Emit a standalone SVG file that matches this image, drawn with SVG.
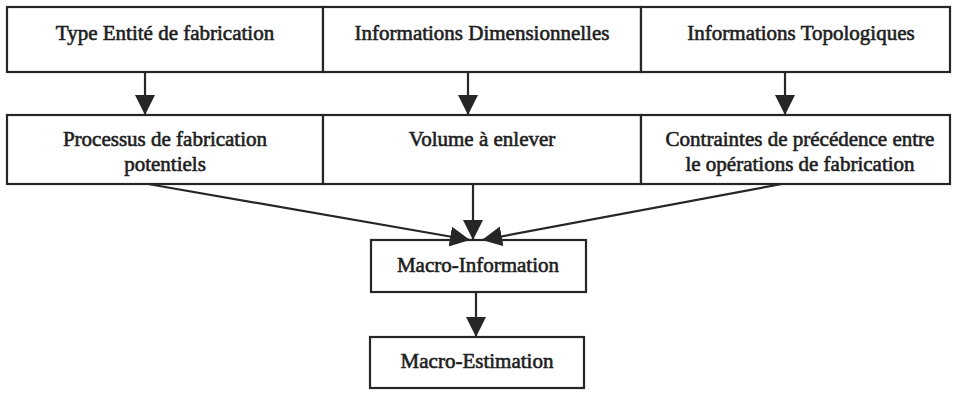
<svg xmlns="http://www.w3.org/2000/svg" width="953" height="393" viewBox="0 0 953 393">
<style>
.box{fill:#fff;stroke:#262626;stroke-width:2.2}
.t{font-family:"Liberation Serif","Times New Roman",serif;font-size:21px;fill:#1e1e1e;stroke:#1e1e1e;stroke-width:0.6;text-anchor:middle}
.c{stroke:#262626;stroke-width:2.2;fill:none}
</style>
<defs>
<marker id="ah" markerUnits="userSpaceOnUse" markerWidth="22" markerHeight="22" refX="20" refY="10" orient="auto">
<path d="M0,0 L20,10 L0,20 z" fill="#262626"/>
</marker>
</defs>
<rect width="953" height="393" fill="#fff"/>
<g id="n1"><rect class="box" x="7" y="7" width="316" height="65"/><text class="t" x="165" y="40">Type Entité de fabrication</text></g>
<g id="n2"><rect class="box" x="323" y="7" width="318" height="65"/><text class="t" x="482" y="40">Informations Dimensionnelles</text></g>
<g id="n3"><rect class="box" x="641" y="7" width="309" height="65"/><text class="t" x="801" y="40">Informations Topologiques</text></g>
<g id="n4"><rect class="box" x="7" y="115" width="316" height="69"/><text class="t" x="165" y="146">Processus de fabrication</text><text class="t" x="165" y="171">potentiels</text></g>
<g id="n5"><rect class="box" x="323" y="115" width="318" height="69"/><text class="t" x="482" y="146">Volume à enlever</text></g>
<g id="n6"><rect class="box" x="641" y="115" width="309" height="69"/><text class="t" x="800" y="146">Contraintes de précédence entre</text><text class="t" x="800" y="171">le opérations de fabrication</text></g>
<g id="n7"><rect class="box" x="371" y="240" width="215" height="52"/><text class="t" x="478" y="272">Macro-Information</text></g>
<g id="n8"><rect class="box" x="370" y="337" width="214" height="51"/><text class="t" x="477" y="368">Macro-Estimation</text></g>
<g id="connectors">
<line class="c" x1="145" y1="72" x2="145" y2="115" marker-end="url(#ah)"/>
<line class="c" x1="468" y1="72" x2="468" y2="115" marker-end="url(#ah)"/>
<line class="c" x1="785" y1="72" x2="785" y2="115" marker-end="url(#ah)"/>
<line class="c" x1="473" y1="184" x2="473" y2="240" marker-end="url(#ah)"/>
<line class="c" x1="148" y1="184" x2="470" y2="240" marker-end="url(#ah)"/>
<line class="c" x1="782" y1="184" x2="482" y2="240" marker-end="url(#ah)"/>
<line class="c" x1="476" y1="292" x2="476" y2="337" marker-end="url(#ah)"/>
</g>
</svg>
